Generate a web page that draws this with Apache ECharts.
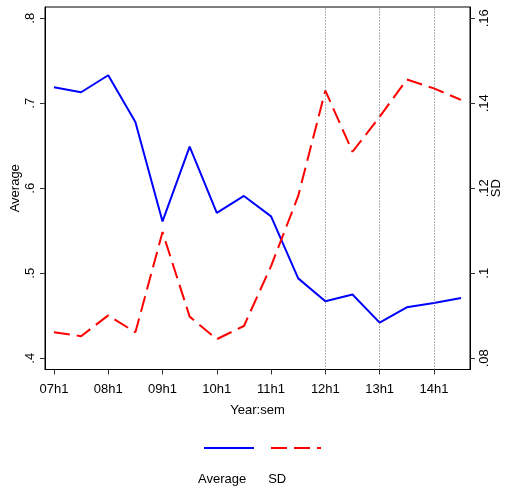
<!DOCTYPE html>
<html>
<head>
<meta charset="utf-8">
<script src="https://cdn.jsdelivr.net/npm/echarts@6/dist/echarts.min.js"></script>
<style>
html,body{margin:0;padding:0;background:#fff;}
#c{width:505px;height:487px;}
</style>
</head>
<body>
<div id="c"></div>
<script>
const categories = ['07h1','07h2','08h1','08h2','09h1','09h2','10h1','10h2','11h1','11h2','12h1','12h2','13h1','13h2','14h1','14h2'];
const averageValues = [0.719,0.713,0.733,0.678,0.561,0.649,0.571,0.591,0.567,0.494,0.467,0.475,0.442,0.460,0.465,0.471];
const sdValues = [0.0861,0.0852,0.0901,0.0861,0.1097,0.0898,0.0845,0.0876,0.1017,0.1182,0.1430,0.1286,0.1368,0.1456,0.1435,0.1408];
const xTickIdx = [0,2,4,6,8,10,12,14];
const leftTicks = [0.4,0.5,0.6,0.7,0.8];
const rightTicks = [0.08,0.10,0.12,0.14,0.16];
const refLineIdx = [10,12,14];

const FONT = '"Liberation Sans",Arial,sans-serif';
const FS = 13;
const fmtDec = v => {
  let s = (+v.toFixed(2)).toString();
  return s.replace(/^0\./, '.');
};

const chart = echarts.init(document.getElementById('c'), null, {renderer:'canvas'});
chart.setOption({
  animation:false,
  backgroundColor:'#fff',
  textStyle:{fontFamily:FONT},
  grid:{left:45,right:35,top:7,bottom:117.5,show:true,borderColor:'#000',borderWidth:1,backgroundColor:'transparent',outerBoundsMode:'none',containLabel:false},
  xAxis:{
    type:'value', min:-0.33, max:15.33,
    name:'Year:sem', nameLocation:'middle', nameGap:34, nameMoveOverlap:false,
    nameTextStyle:{fontFamily:FONT,fontSize:FS,color:'#000'},
    axisLine:{show:true,onZero:false,lineStyle:{color:'#000'}},
    splitLine:{show:false},
    axisTick:{show:true,length:5,customValues:xTickIdx,lineStyle:{color:'#333'}},
    axisLabel:{customValues:xTickIdx,formatter:v=>categories[Math.round(v)],fontFamily:FONT,fontSize:FS,color:'#000',margin:13}
  },
  yAxis:[{
    type:'value', min:0.3868, max:0.8133, position:'left',
    name:'Average', nameLocation:'middle', nameGap:23, nameRotate:90, nameMoveOverlap:false,
    nameTextStyle:{fontFamily:FONT,fontSize:FS,color:'#000'},
    axisLine:{show:true,onZero:false,lineStyle:{color:'#000'}},
    splitLine:{show:false},
    axisTick:{show:true,length:5,customValues:leftTicks,lineStyle:{color:'#333'}},
    axisLabel:{customValues:leftTicks,rotate:90,formatter:fmtDec,fontFamily:FONT,fontSize:FS,color:'#000',margin:8}
  },{
    type:'value', min:0.07736, max:0.16266, position:'right',
    name:'SD', nameLocation:'middle', nameGap:20, nameRotate:90, nameMoveOverlap:false,
    nameTextStyle:{fontFamily:FONT,fontSize:FS,color:'#000'},
    axisLine:{show:true,onZero:false,lineStyle:{color:'#000'}},
    splitLine:{show:false},
    axisTick:{show:true,length:5,customValues:rightTicks,lineStyle:{color:'#333'}},
    axisLabel:{customValues:rightTicks,rotate:90,formatter:fmtDec,fontFamily:FONT,fontSize:FS,color:'#000',margin:8}
  }],
  legend:[{
    data:['Average','SD'], left:198, top:436, orient:'horizontal',
    itemWidth:50, itemHeight:14, itemGap:15, selectedMode:false,
    itemStyle:{opacity:0},
    formatter:()=>'', textStyle:{fontSize:1}
  },{
    data:['Average','SD'], left:187, top:468, orient:'horizontal',
    itemWidth:0, itemHeight:0, itemGap:16, selectedMode:false,
    itemStyle:{opacity:0}, lineStyle:{opacity:0},
    textStyle:{fontFamily:FONT,fontSize:FS,color:'#000'}
  }],
  series:[{
    name:'Average', type:'line', yAxisIndex:0,
    data:averageValues.map((v,i)=>[i,v]),
    showSymbol:false, symbol:'none', color:'#0000ff',
    lineStyle:{color:'#0000ff',width:2},
    markLine:{
      silent:true, symbol:['none','none'], label:{show:false},
      lineStyle:{color:'#666',type:[1,2],width:1},
      data:refLineIdx.map(i=>({xAxis:i}))
    }
  },{
    name:'SD', type:'line', yAxisIndex:1,
    data:sdValues.map((v,i)=>[i,v]),
    showSymbol:false, symbol:'none', color:'#ff0000',
    lineStyle:{color:'#ff0000',width:2,type:[16,7]}
  }]
});
</script>
</body>
</html>
